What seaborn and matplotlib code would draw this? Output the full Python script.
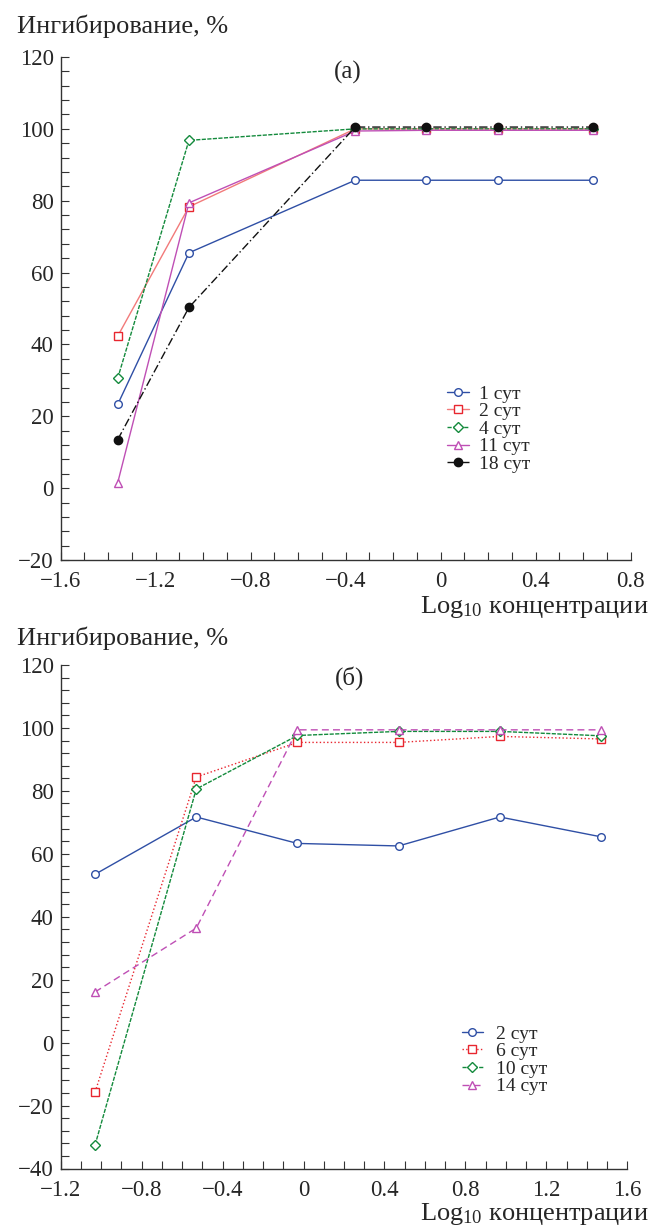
import numpy as np
import pandas as pd
import seaborn as sns
import matplotlib
matplotlib.use('Agg')
import matplotlib.pyplot as plt
from matplotlib.ticker import MultipleLocator, FuncFormatter

# panel (a)
top_x = [-1.36, -1.06, -0.36, -0.06, 0.24, 0.64]
top_labels = ['1 сут', '2 сут', '4 сут', '11 сут', '18 сут']
top_vals = [
    [23.3, 65.5, 85.7, 85.7, 85.7, 85.7],
    [42.3, 78.3, 100.0, 100.0, 100.0, 100.0],
    [30.6, 96.8, 100.0, 100.0, 100.0, 100.0],
    [1.5, 79.4, 99.4, 99.6, 99.6, 99.6],
    [13.5, 50.3, 100.5, 100.5, 100.5, 100.5],
]

# panel (б)
bot_x = [-1.03, -0.53, -0.03, 0.47, 0.97, 1.47]
bot_labels = ['2 сут', '6 сут', '10 сут', '14 сут']
bot_vals = [
    [53.5, 71.7, 63.3, 62.5, 71.7, 65.4],
    [-15.7, 84.4, 95.4, 95.4, 97.3, 96.5],
    [-32.5, 80.6, 97.6, 98.9, 98.9, 97.5],
    [16.1, 36.4, 99.4, 99.4, 99.4, 99.4],
]

sns.set_style("ticks")
plt.rcParams['font.family'] = ['Liberation Serif', 'DejaVu Serif']
plt.rcParams['mathtext.default'] = 'regular'

blue = '#2f4fa5'
red = '#e8262f'
salmon = '#f27a7a'
green = '#138a3c'
magenta = '#bf4fb5'
black = '#111111'

top_styles = [
    dict(color=blue, marker='o', linestyle='-', mec=blue, mfc='white', ms=5.5),
    dict(color=salmon, marker='s', linestyle='-', mec=red, mfc='white', ms=5.5),
    dict(color=green, marker='D', linestyle=(0, (3, 1)), mec=green, mfc='white', ms=5),
    dict(color=magenta, marker='^', linestyle='-', mec=magenta, mfc='white', ms=5.5),
    dict(color=black, marker='o', linestyle=(0, (6, 2, 1, 2)), mec=black, mfc=black, ms=6),
]
bot_styles = [
    dict(color=blue, marker='o', linestyle='-', mec=blue, mfc='white', ms=5.5),
    dict(color=red, marker='s', linestyle=':', mec=red, mfc='white', ms=5.5),
    dict(color=green, marker='D', linestyle=(0, (3, 1)), mec=green, mfc='white', ms=5),
    dict(color=magenta, marker='^', linestyle=(0, (5, 3)), mec=magenta, mfc='white', ms=5.5),
]

W, H = 649, 1228
fig = plt.figure(figsize=(W / 100, H / 100), dpi=100)
ax1 = fig.add_axes([60.7 / W, 1 - 560 / H, 570 / W, 503 / H])
ax2 = fig.add_axes([60.7 / W, 1 - 1168.5 / H, 566.6 / W, 503.5 / H])


def fmt(v, pos):
    v = round(v, 1)
    if abs(v) < 1e-9:
        return '0'
    return ('%g' % v).replace('-', '\u2212')


def draw(ax, xs, labels, vals, styles):
    for lab, ys, st in zip(labels, vals, styles):
        df = pd.DataFrame({'x': xs, 'y': ys})
        sns.lineplot(data=df, x='x', y='y', ax=ax, color=st['color'],
                     marker=st['marker'], linestyle=st['linestyle'],
                     markeredgecolor=st['mec'], markerfacecolor=st['mfc'],
                     markersize=st['ms'], markeredgewidth=1.0,
                     linewidth=1.0, label=lab)
    ax.set_xlabel('')
    ax.set_ylabel('')
    sns.despine(ax=ax)
    for s in ['left', 'bottom']:
        ax.spines[s].set_color('#333333')
        ax.spines[s].set_linewidth(1.0)
    ax.xaxis.set_major_formatter(FuncFormatter(fmt))
    ax.yaxis.set_major_formatter(FuncFormatter(fmt))
    ax.tick_params(which='both', direction='in', length=6, width=0.8,
                   color='#333333', labelsize=16.5)
    ax.tick_params(axis='x', which='major', pad=8)
    ax.tick_params(axis='y', which='major', pad=5)


draw(ax1, top_x, top_labels, top_vals, top_styles)
ax1.set_xlim(-1.6, 0.8)
ax1.set_ylim(-20, 120)
ax1.xaxis.set_major_locator(MultipleLocator(0.4))
ax1.xaxis.set_minor_locator(MultipleLocator(0.1))
ax1.yaxis.set_major_locator(MultipleLocator(20))
ax1.yaxis.set_minor_locator(MultipleLocator(4))
ax1.text(-0.39, 115.8, '(а)', fontsize=18, ha='center', va='center')
ax1.legend(loc='upper left', bbox_to_anchor=(0.677, 0.348), frameon=False,
           borderpad=0, borderaxespad=0, fontsize=14, handlelength=1.16,
           handletextpad=0.5, labelspacing=0.0)

draw(ax2, bot_x, bot_labels, bot_vals, bot_styles)
ax2.set_xlim(-1.2, 1.6)
ax2.set_ylim(-40, 120)
ax2.xaxis.set_major_locator(MultipleLocator(0.4))
ax2.xaxis.set_minor_locator(MultipleLocator(0.1))
ax2.yaxis.set_major_locator(MultipleLocator(20))
ax2.yaxis.set_minor_locator(MultipleLocator(4))
ax2.text(0.226, 115.9, '(б)', fontsize=18, ha='center', va='center')
ax2.legend(loc='upper left', bbox_to_anchor=(0.7077, 0.285), frameon=False,
           borderpad=0, borderaxespad=0, fontsize=14, handlelength=1.1,
           handletextpad=0.65, labelspacing=0.0)

for yc in [26.7, 638.3]:
    fig.text(16.7 / W, 1 - yc / H, 'Ингибирование, %', fontsize=19,
             ha='left', va='center')
for yc in [607, 1214]:
    fig.text(0.999, 1 - yc / H, 'Log$_{10}$ концентрации', fontsize=19,
             ha='right', va='center')

fig.savefig('out.png', dpi=100)
